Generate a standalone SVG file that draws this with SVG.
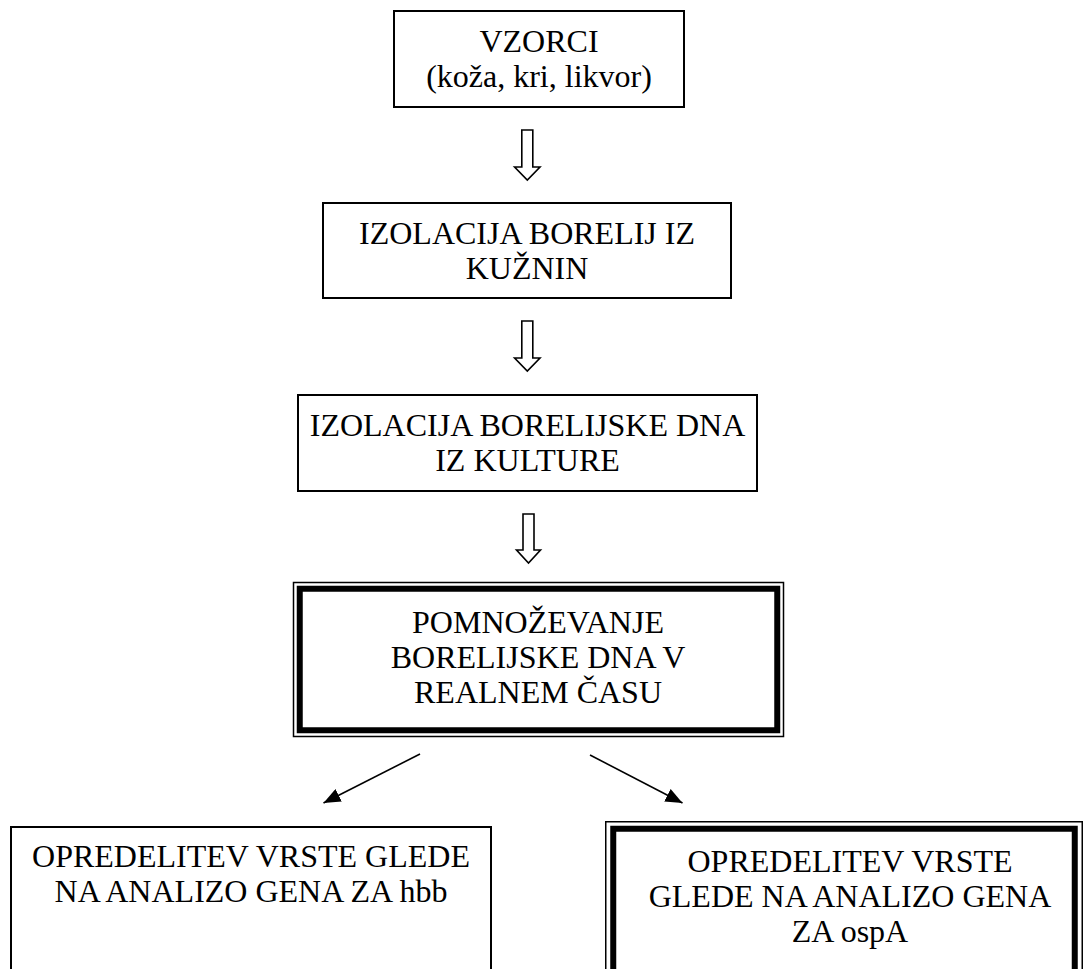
<svg xmlns="http://www.w3.org/2000/svg" width="1084" height="969" viewBox="0 0 1084 969">
<style>
.box{fill:#fff;stroke:#000;stroke-width:2}
.thin{fill:none;stroke:#000;stroke-width:1.5}
.thick{fill:none;stroke:#000;stroke-width:6}
.hol{fill:#fff;stroke:#000;stroke-width:1.6;stroke-linejoin:miter}
.ln{fill:none;stroke:#000;stroke-width:1.6}
.t{font-size:32px;fill:#000;text-anchor:middle}
</style>
<defs>
<marker id="ah" viewBox="0 0 10 10" refX="10" refY="5" markerWidth="17" markerHeight="14" markerUnits="userSpaceOnUse" orient="auto" preserveAspectRatio="none">
<path d="M0,0 L10,5 L0,10 Z" fill="#000"/>
</marker>
</defs>
<rect width="1084" height="969" fill="#fff"/>
<g font-family="Liberation Serif, Times New Roman, DejaVu Serif, serif">
<g id="n1">
<rect class="box" x="394" y="11" width="290" height="96"/>
<text class="t" x="539" y="52">VZORCI</text>
<text class="t" x="539" y="87">(koža, kri, likvor)</text>
</g>
<g id="n2">
<rect class="box" x="323" y="203" width="408" height="95"/>
<text class="t" x="527" y="244">IZOLACIJA BORELIJ IZ</text>
<text class="t" x="527" y="279">KUŽNIN</text>
</g>
<g id="n3">
<rect class="box" x="298" y="395" width="459" height="96"/>
<text class="t" x="527.5" y="436">IZOLACIJA BORELIJSKE DNA</text>
<text class="t" x="527.5" y="471">IZ KULTURE</text>
</g>
<g id="n4">
<rect class="thin" x="293.5" y="582.5" width="490" height="154"/>
<rect class="thick" x="299.75" y="588.75" width="477.5" height="141.5"/>
<text class="t" x="538" y="633">POMNOŽEVANJE</text>
<text class="t" x="538" y="668">BORELIJSKE DNA V</text>
<text class="t" x="538" y="703">REALNEM ČASU</text>
</g>
<g id="n5">
<rect class="box" x="11" y="827" width="480" height="160"/>
<text class="t" x="251" y="867">OPREDELITEV VRSTE GLEDE</text>
<text class="t" x="251" y="902">NA ANALIZO GENA ZA hbb</text>
</g>
<g id="n6">
<rect class="thin" x="605.75" y="821.75" width="476.5" height="170"/>
<rect class="thick" x="613.25" y="828.75" width="461.5" height="160"/>
<text class="t" x="850" y="872">OPREDELITEV VRSTE</text>
<text class="t" x="850" y="907">GLEDE NA ANALIZO GENA</text>
<text class="t" x="850" y="942">ZA ospA</text>
</g>
</g>
<g id="connectors">
<path class="hol" d="M521.8,130 H532.8 V167 H540 L527.3,180 L514.6,167 H521.8 Z"/>
<path class="hol" d="M521.8,321 H532.8 V358 H540 L527.3,371 L514.6,358 H521.8 Z"/>
<path class="hol" d="M523,514 H534 V550 H540.5 L528.5,563 L516.5,550 H523 Z"/>
<line class="ln" x1="420" y1="754" x2="323.5" y2="803" marker-end="url(#ah)"/>
<line class="ln" x1="590" y1="755" x2="682.5" y2="803" marker-end="url(#ah)"/>
</g>
</svg>
